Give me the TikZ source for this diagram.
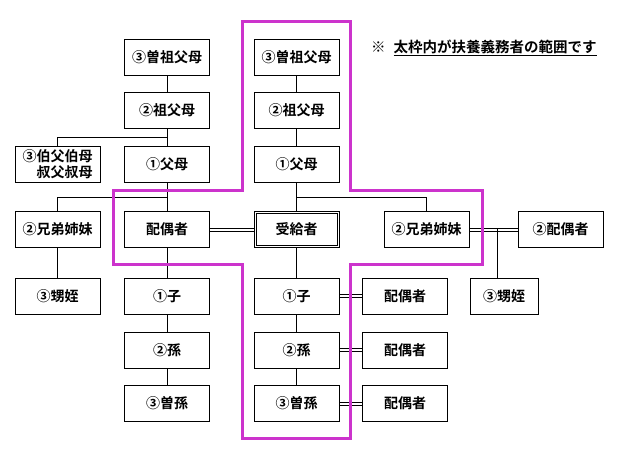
\documentclass[tikz,border=0pt]{standalone}
\usepackage{fontspec}
\setmainfont{Noto Sans CJK JP}[BoldFont={* Bold}]
\usepackage{tikz}
\usetikzlibrary{calc}
\definecolor{waku}{RGB}{204,51,204}

\tikzset{
  box/.style={draw, line width=0.9pt, minimum width=85pt, minimum height=36pt,
    inner sep=1pt, font=\fontsize{14}{16}\selectfont\bfseries},
  link/.style={draw, line width=0.9pt}
}
% marriage line: two thin parallel lines
\newcommand{\dline}[2]{%
  \draw[link] ([yshift=-1.5pt]#1.east) -- ([yshift=-1.5pt]#2.west);
  \draw[link] ([yshift=1.5pt]#1.east) -- ([yshift=1.5pt]#2.west);}

\begin{document}
\begin{tikzpicture}[x=1pt, y=-1pt]
    \useasboundingbox (0,0) rectangle (618,460);

    % left side
    \node[box] (sofuL) at (167,57) {③曽祖父母};
    \node[box] (sofL) at (167,110) {②祖父母};
    \node[box, align=right] (unc) at (57.5,164) {③伯父伯母\\叔父叔母};
    \node[box] (parL) at (167,164) {①父母};
    \node[box] (sibL) at (57.5,229.5) {②兄弟姉妹};
    \node[box] (spL) at (167,229.5) {配偶者};
    \node[box] (meiL) at (57.5,296) {③甥姪};
    \node[box] (koL) at (167,296) {①子};
    \node[box] (magoL) at (167,350) {②孫};
    \node[box] (himagoL) at (167,403.5) {③曽孫};

    % center
    \node[box] (sofuC) at (296.5,57) {③曽祖父母};
    \node[box] (sofC) at (296.5,110) {②祖父母};
    \node[box] (parC) at (296.5,164) {①父母};
    \node[box] (me) at (296.5,229.5) {受給者};
    \draw[line width=0.9pt] ($(me.north west)+(2.5,2.5)$) rectangle ($(me.south east)+(-2.5,-2.5)$);
    \node[box] (koC) at (296.5,296) {①子};
    \node[box] (magoC) at (296.5,350) {②孫};
    \node[box] (himagoC) at (296.5,403.5) {③曽孫};

    % right side
    \node[box] (sibC) at (426.5,229.5) {②兄弟姉妹};
    \node[box] (spS) at (560.5,229.5) {②配偶者};
    \node[box, minimum width=68pt] (meiR) at (504,296) {③甥姪};
    \node[box] (spK) at (405,296) {配偶者};
    \node[box] (spM) at (405,350) {配偶者};
    \node[box] (spH) at (405,403.5) {配偶者};
    \coordinate (j) at (497,229.5);

    \node[anchor=west, inner sep=0pt, font=\fontsize{14.5}{16}\selectfont\bfseries] (note) at (371,48)
      {※\hspace{8pt}\underline{太枠内が扶養義務者の範囲です}};

    \draw[link] (sofuL) -- (sofL) -- (parL) -- (spL) -- (koL) -- (magoL) -- (himagoL);
    \draw[link] (sofL.south) -- ++(0,9) -| (unc.north);
    \draw[link] (parL.south) -- ++(0,15) -| (sibL.north);
    \draw[link] (sibL) -- (meiL);

    \draw[link] (sofuC) -- (sofC) -- (parC) -- (me) -- (koC) -- (magoC) -- (himagoC);
    \draw[link] (parC.south) -- ++(0,15) -| (sibC.north);
    \draw[link] ([yshift=1.5pt]j) -- (j |- meiR.north);

    \dline{spL}{me}
    \dline{sibC}{spS}
    \dline{koC}{spK}
    \dline{magoC}{spM}
    \dline{himagoC}{spH}

    % thick frame
    \draw[waku, line width=3pt] (242,22) -- (350,22) -- (350,190) -- (482,190) -- (482,264)
      -- (350,264) -- (350,438) -- (242,438) -- (242,264) -- (113,264) -- (113,190)
      -- (242,190) -- cycle;
\end{tikzpicture}
\end{document}
